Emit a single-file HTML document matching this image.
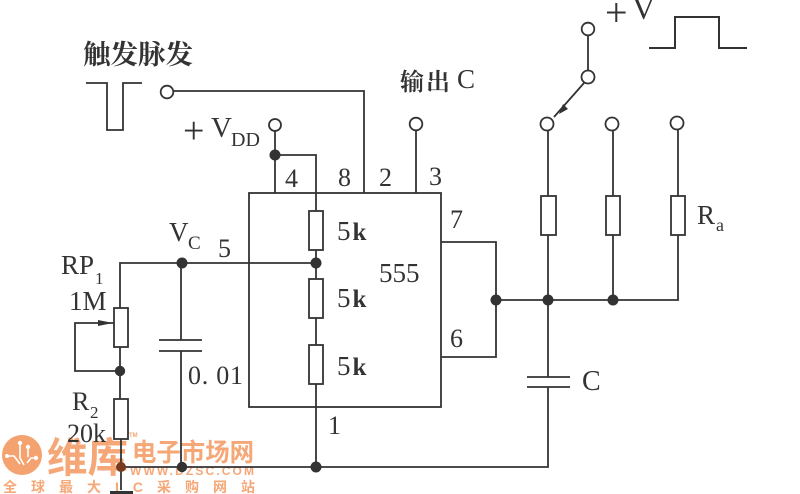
<!DOCTYPE html>
<html><head><meta charset="utf-8">
<style>
html,body{margin:0;padding:0;background:#fff;width:800px;height:494px;overflow:hidden}
svg{display:block;filter:blur(.35px)}
.s{font-family:"Liberation Serif",serif;fill:#333}
.c{font-family:"Noto Serif CJK SC","Liberation Serif",serif;fill:#333;font-weight:700}
.w{font-family:"Liberation Sans","Noto Sans CJK SC",sans-serif;fill:#f6a777;font-weight:700}
</style></head><body>
<svg width="800" height="494" viewBox="0 0 800 494" xmlns="http://www.w3.org/2000/svg">
<rect width="800" height="494" fill="#fff"/>

<!-- watermark -->
<g>
<circle cx="22" cy="455" r="20" fill="#f4a26f"/>
<g fill="none" stroke="#fff" stroke-width="1.6">
<path d="M7 456 H14 L20 464"/><path d="M20 444 V458 L24 465"/><path d="M28 448 V457"/><path d="M36 458 H31 L27 463"/>
</g>
<g fill="#fff"><circle cx="7" cy="456" r="2"/><circle cx="20" cy="443" r="2.2"/><circle cx="28" cy="447" r="2.2"/><circle cx="36" cy="458" r="2.2"/></g>
<text class="w" x="47" y="472" font-size="41" textLength="81" lengthAdjust="spacingAndGlyphs">维库</text>
<text class="w" x="132" y="461" font-size="25" textLength="122" lengthAdjust="spacingAndGlyphs">电子市场网</text>
<text class="w" x="130" y="475" font-size="12" textLength="124">WWW.DZSC.COM</text>
<text class="w" x="3" y="492" font-size="14" font-weight="400" textLength="252">全球最大IC采购网站</text>
<text class="w" x="129" y="437" font-size="6" font-weight="400">TM</text>
</g>

<!-- wires -->
<g fill="none" stroke="#333" stroke-width="1.8">
<rect x="249" y="193" width="192" height="214"/>
<path d="M86 83H107V130H123V83H142"/>
<path d="M173 91H364V193"/>
<path d="M275 131V193"/>
<path d="M275 155H316V211"/>
<path d="M416 130V193"/>
<path d="M316 250V279M316 318V345M316 384V467"/>
<path d="M120 308V263H316"/>
<path d="M181 263V340M181 351V467"/>
<path d="M159 340H202M159 351H202"/>
<path d="M114 323H75V371H120"/>
<path d="M120 347V399M121 439V490"/>
<path d="M120 467H548V387"/>
<path d="M527 377H570M527 387H570"/>
<path d="M548 377V235"/>
<path d="M613 300V235"/>
<path d="M441 242H496V357H441"/>
<path d="M496 300H678V235"/>
<path d="M548 196V130M613 196V130M678 196V130"/>
<path d="M588 35V71"/>
<path d="M584 83L554 117"/>
<path d="M649 48H675V17H719V48H747" stroke-width="2"/>
<rect x="309" y="211" width="14" height="39" fill="#fff"/>
<rect x="309" y="279" width="14" height="39" fill="#fff"/>
<rect x="309" y="345" width="14" height="39" fill="#fff"/>
<rect x="114" y="308" width="14" height="39" fill="#fff"/>
<rect x="114" y="399" width="14" height="40" fill="#fff"/>
<rect x="541" y="196" width="15" height="39" fill="#fff"/>
<rect x="606" y="196" width="14" height="39" fill="#fff"/>
<rect x="671" y="196" width="14" height="39" fill="#fff"/>
<circle cx="167" cy="92" r="6.3" fill="#fff"/>
<circle cx="275" cy="125" r="6" fill="#fff"/>
<circle cx="416" cy="124" r="6.3" fill="#fff"/>
<circle cx="547" cy="124" r="6.5" fill="#fff"/>
<circle cx="612" cy="124" r="6.5" fill="#fff"/>
<circle cx="677" cy="123" r="6.5" fill="#fff"/>
<circle cx="588" cy="29" r="6.3" fill="#fff"/>
<circle cx="588" cy="77" r="6.5" fill="#fff"/>
</g>
<rect x="110" y="491" width="23" height="3" fill="#333"/>

<!-- dots and arrowheads -->
<g fill="#333">
<circle cx="275" cy="155" r="5.5"/>
<circle cx="316" cy="263" r="5.5"/>
<circle cx="182" cy="263" r="5.5"/>
<circle cx="120" cy="371" r="5.2"/>
<circle cx="316" cy="467" r="5.5"/>
<circle cx="182" cy="467" r="5.2"/>
<circle cx="121" cy="467" r="5" fill="#7a3a20"/>
<circle cx="496" cy="300" r="5.5"/>
<circle cx="548" cy="300" r="5.5"/>
<circle cx="613" cy="300" r="5.5"/>
<path d="M113 323L98 320V326Z"/>
<path d="M559 114L563 104L568 109Z"/>
</g>

<!-- labels -->
<text class="c" x="83" y="64" font-size="27" textLength="110" lengthAdjust="spacingAndGlyphs">触发脉发</text>
<text class="c" x="400" y="90" font-size="24" textLength="50">输出</text>
<text class="s" x="457" y="88" font-size="27">C</text>
<text class="s" x="605" y="26" font-size="40">+</text>
<text class="s" x="632" y="19" font-size="32">V</text>
<text class="s" x="183" y="143" font-size="38">+</text>
<text class="s" x="211" y="137" font-size="29">V</text>
<text class="s" x="231" y="146" font-size="20">DD</text>
<text class="s" x="285" y="187" font-size="26">4</text>
<text class="s" x="338" y="186" font-size="26">8</text>
<text class="s" x="379" y="186" font-size="26">2</text>
<text class="s" x="429" y="185" font-size="26">3</text>
<text class="s" x="450" y="228" font-size="26">7</text>
<text class="s" x="450" y="347" font-size="26">6</text>
<text class="s" x="328" y="434" font-size="26">1</text>
<text class="s" x="218" y="257" font-size="26">5</text>
<text class="s" x="379" y="282" font-size="27">555</text>
<text class="s" x="337" y="240" font-size="27">5<tspan font-weight="700" dx="2" font-size="25">k</tspan></text>
<text class="s" x="337" y="307" font-size="27">5<tspan font-weight="700" dx="2" font-size="25">k</tspan></text>
<text class="s" x="337" y="375" font-size="27">5<tspan font-weight="700" dx="2" font-size="25">k</tspan></text>
<text class="s" x="188" y="384" font-size="26" textLength="55">0. 01</text>
<text class="s" x="582" y="390" font-size="28">C</text>
<text class="s" x="697" y="224" font-size="27">R</text>
<text class="s" x="716" y="231" font-size="18">a</text>
<text class="s" x="169" y="241" font-size="27">V</text>
<text class="s" x="188" y="249" font-size="19">C</text>
<text class="s" x="61" y="274" font-size="27">RP</text>
<text class="s" x="95" y="284" font-size="17">1</text>
<text class="s" x="69" y="310" font-size="27">1M</text>
<text class="s" x="72" y="410" font-size="26">R</text>
<text class="s" x="90" y="418" font-size="17">2</text>
<text class="s" x="67" y="442" font-size="26">20k</text>
</svg>
</body></html>
